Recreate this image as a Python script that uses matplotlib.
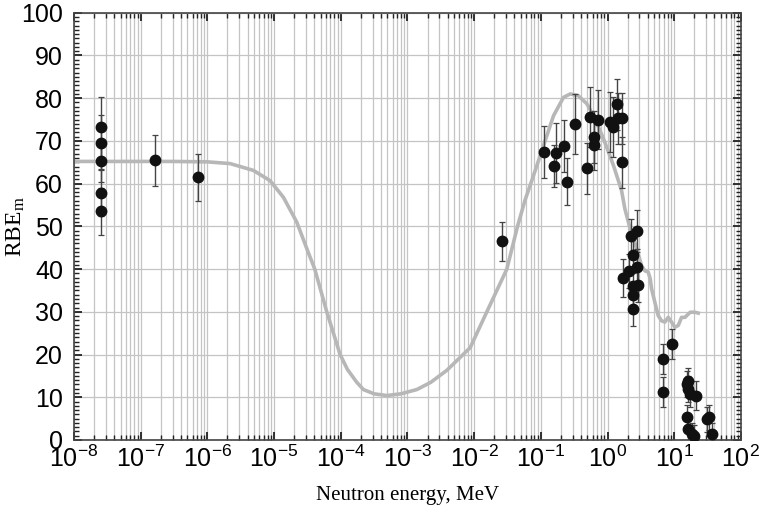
import numpy as np
import matplotlib
matplotlib.use('Agg')
import matplotlib.pyplot as plt
from matplotlib.ticker import LogLocator, MultipleLocator, NullFormatter

plt.rcParams['font.family'] = ['Liberation Sans', 'DejaVu Sans']
plt.rcParams['mathtext.fontset'] = 'custom'
plt.rcParams['mathtext.rm'] = 'Liberation Serif'
plt.rcParams['mathtext.it'] = 'Liberation Serif:italic'

# Model curve: log10(energy / MeV) and RBE_m
curve_log_e = [-8.0, -6.5, -6.0, -5.66, -5.31, -5.06, -4.86, -4.66, -4.49, -4.39,
               -4.21, -4.01, -3.90, -3.76, -3.66, -3.50, -3.31, -3.10, -2.86, -2.65,
               -2.41, -2.06, -1.81, -1.51, -1.35, -1.24, -1.11, -0.96, -0.81, -0.66,
               -0.56, -0.44, -0.31, -0.19, -0.06, 0.09, 0.21, 0.26, 0.34, 0.44,
               0.51, 0.56, 0.61, 0.64, 0.66, 0.71, 0.76, 0.81, 0.86, 0.91,
               0.96, 1.01, 1.06, 1.11, 1.16, 1.24, 1.31, 1.36]
curve_rbe = [65.2, 65.2, 65.1, 64.7, 63.1, 60.7, 56.8, 51.0, 44.0, 40.0,
             30.0, 20.0, 16.5, 13.5, 11.8, 10.8, 10.4, 10.8, 11.8, 13.5,
             16.3, 21.6, 30.0, 40.0, 50.0, 56.0, 61.9, 68.9, 75.9, 80.2,
             81.0, 80.6, 78.7, 75.2, 70.5, 64.2, 58.4, 54.1, 49.4, 44.7,
             40.8, 39.6, 39.3, 37.7, 35.4, 32.2, 29.1, 27.9, 27.6, 28.7,
             27.6, 26.4, 26.8, 28.7, 28.7, 29.9, 29.9, 29.7]

# Experimental points (energy in MeV, RBE_m, error)
pts_e = [2.54e-8, 2.54e-8, 2.54e-8, 2.54e-8, 2.54e-8, 1.64e-7, 7.2e-7,
         0.0264, 0.111, 0.167, 0.16, 0.222, 0.244, 0.33, 0.5, 0.55, 0.62,
         0.63, 0.72, 1.07, 1.2, 1.41, 1.44, 1.67, 1.67,
         2.28, 2.81, 2.4, 2.1, 1.73, 2.75, 2.4, 2.9, 2.4, 2.4,
         6.67, 6.67, 9.4,
         16.2, 15.6, 16.2, 17.2, 21.3, 15.6, 16.2, 18.5, 20.1, 31.0, 33.5, 36.4]
pts_rbe = [73.2, 69.6, 65.3, 57.9, 53.5, 65.5, 61.5,
           46.5, 67.4, 67.2, 64.1, 68.8, 60.5, 74.0, 63.6, 75.6, 70.9,
           69.1, 75.0, 74.4, 73.2, 78.6, 75.3, 75.3, 65.0,
           47.7, 48.9, 43.3, 39.6, 37.9, 40.6, 36.0, 36.3, 34.0, 30.7,
           19.0, 11.3, 22.5,
           13.9, 13.1, 11.9, 10.8, 10.4, 5.3, 2.6, 1.4, 0.9, 4.8, 5.3, 1.4]
pts_err = [7.0, 6.5, 5.0, 5.5, 5.5, 6.0, 5.5,
           4.5, 6.0, 7.0, 5.0, 6.0, 5.5, 7.0, 6.0, 7.0, 6.0,
           6.0, 7.0, 7.0, 7.0, 6.0, 6.0, 6.0, 6.0,
           4.0, 5.0, 4.0, 4.0, 4.5, 4.0, 3.0, 4.0, 3.0, 4.0,
           3.5, 3.5, 3.5,
           3.0, 3.0, 3.0, 3.0, 3.5, 3.0, 3.0, 2.5, 2.5, 3.0, 3.0, 2.5]

fig = plt.figure(figsize=(7.67, 5.11), dpi=100)
ax = fig.add_axes([0.0965, 0.139, 0.8695, 0.836])

ax.plot(10.0 ** np.array(curve_log_e), curve_rbe, color='#b7b7b7', lw=2.6,
        solid_joinstyle='round', zorder=2)
ax.errorbar(pts_e, pts_rbe, yerr=pts_err, fmt='o', color='#111111',
            ms=7.5, ecolor='#444444', elinewidth=1.0, capsize=2.5,
            capthick=0.9, zorder=3)

ax.set_xscale('log')
ax.set_xlim(1e-8, 1e2)
ax.set_ylim(0, 100)
ax.xaxis.set_major_locator(LogLocator(base=10, numticks=12))
ax.xaxis.set_minor_locator(LogLocator(base=10, subs=np.arange(2, 10), numticks=12))
ax.xaxis.set_minor_formatter(NullFormatter())
ax.yaxis.set_major_locator(MultipleLocator(10))
ax.yaxis.set_minor_locator(MultipleLocator(1))

ax.grid(True, which='major', axis='both', color='#c4c4c4', lw=0.9)
ax.grid(True, which='minor', axis='x', color='#c4c4c4', lw=0.9)
ax.set_axisbelow(True)

ax.tick_params(which='both', direction='in', top=True, right=True,
               colors='#222222', labelcolor='black')
ax.tick_params(which='major', length=6, width=1.3, labelsize=18)
ax.tick_params(axis='x', which='major', pad=4)
ax.tick_params(axis='y', which='major', pad=8)
ax.tick_params(which='minor', length=3.5, width=1.0)
for s in ax.spines.values():
    s.set_color('#444444')
    s.set_linewidth(1.2)

ax.set_xlabel('Neutron energy, MeV', family='Liberation Serif', fontsize=15, labelpad=10)
ax.set_ylabel(r'$\mathrm{RBE}_\mathrm{m}$', fontsize=17)
ax.yaxis.set_label_coords(-0.071, 0.5)

fig.savefig('out.png', dpi=100)
